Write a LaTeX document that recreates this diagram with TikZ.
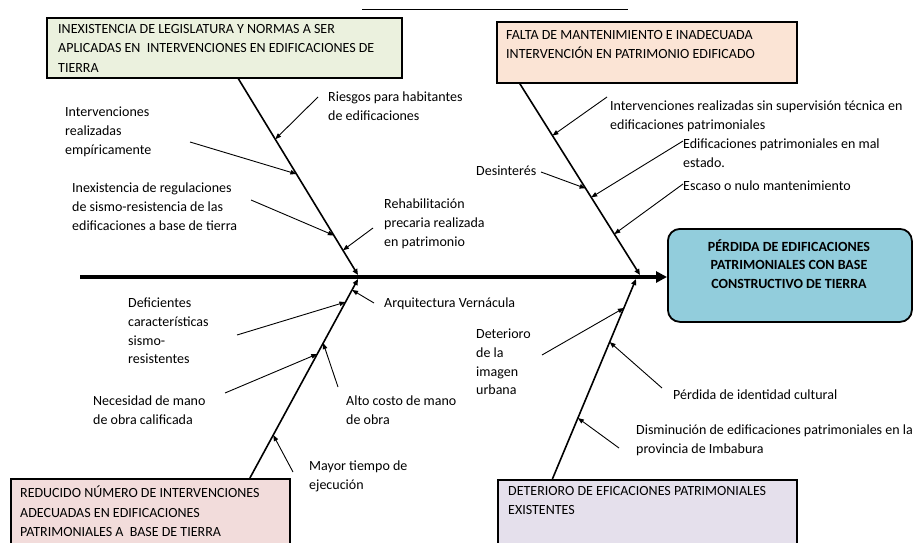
\documentclass[tikz,border=0pt]{standalone}
\usepackage{fontspec}
\setmainfont{Carlito}
\definecolor{BoxGreen}{RGB}{235, 241, 222}
\definecolor{BoxPeach}{RGB}{251, 228, 213}
\definecolor{BoxPink}{RGB}{242, 220, 219}
\definecolor{BoxLilac}{RGB}{229, 224, 236}
\definecolor{HeadBlue}{RGB}{146, 205, 220}
\usetikzlibrary{arrows.meta, calc}

\tikzset{
  catbox/.style={draw, line width=1.8pt, inner sep=0pt, anchor=north west},
  cattext/.style={anchor=north west, inner sep=0pt, align=left, font=\fontsize{14}{19.5}\selectfont},
  cause/.style={anchor=north west, inner sep=0pt, align=left, font=\fontsize{14}{18.6}\selectfont},
  bone/.style={line width=1.6pt, -{Triangle[length=6pt, width=5pt]}},
  twig/.style={line width=0.9pt, -{Triangle[length=6pt, width=4.5pt]}},
}

\begin{document}
\begin{tikzpicture}[x=1pt, y=-1pt]
        \clip (0,0) rectangle (913,543);

        % Stray rule at the top
        \draw[line width=1pt] (362,10) -- (628,10);

        % Category boxes
        \node[catbox, fill=BoxGreen, minimum width=355pt, minimum height=60pt] (tl) at (46,17) {};
        \node[cattext] (tlt) at (58,24) {INEXISTENCIA DE LEGISLATURA Y NORMAS A SER\\APLICADAS EN~ INTERVENCIONES EN EDIFICACIONES DE\\TIERRA};

        \node[catbox, fill=BoxPeach, minimum width=300pt, minimum height=61pt] (tr) at (496,21) {};
        \node[cattext] (trt) at (506,30) {FALTA DE MANTENIMIENTO E INADECUADA\\INTERVENCIÓN EN PATRIMONIO EDIFICADO};

        \node[catbox, fill=BoxPink, minimum width=279pt, minimum height=100pt] (bl) at (10,478) {};
        \node[cattext] (blt) at (20,486) {REDUCIDO NÚMERO DE INTERVENCIONES\\ADECUADAS EN EDIFICACIONES\\PATRIMONIALES A~ BASE DE TIERRA};

        \node[catbox, fill=BoxLilac, minimum width=299pt, minimum height=100pt] (br) at (497,479) {};
        \node[cattext] (brt) at (508,486) {DETERIORO DE EFICACIONES PATRIMONIALES\\EXISTENTES};

        % Effect
        \node[catbox, rounded corners=12pt, fill=HeadBlue, minimum width=244pt, minimum height=93pt] (head) at (667,228) {};
        \node[align=center, inner sep=0pt, font=\bfseries\fontsize{14}{18.6}\selectfont] (headt) at (789,264) {PÉRDIDA DE EDIFICACIONES\\PATRIMONIALES CON BASE\\CONSTRUCTIVO DE TIERRA};

        % Spine and main bones
        \coordinate (tail) at (80,277);
        \coordinate (tlb) at ([xshift=14pt]tl.south);
        \coordinate (tlj) at (358,275);
        \coordinate (trb) at ([xshift=-127pt]tr.south);
        \coordinate (trj) at (640,275);
        \coordinate (blb) at ([xshift=99.5pt]bl.north);
        \coordinate (blj) at (358,279);
        \coordinate (brb) at ([xshift=-95pt]br.north);
        \coordinate (brj) at (636,279);

        \draw[line width=3.5pt, -{Triangle[length=11pt, width=11pt]}] (tail) -- (tail -| head.west);
        \draw[bone] (tlb) -- (tlj);
        \draw[bone] (trb) -- (trj);
        \draw[bone] (blb) -- (blj);
        \draw[bone] (brb) -- (brj);

        % Causes, upper left
        \node[cause] (rie) at (328,92) {Riesgos para habitantes\\de edificaciones};
        \node[cause] (emp) at (65,107) {Intervenciones\\realizadas\\empíricamente};
        \node[cause] (reg) at (72,183) {Inexistencia de regulaciones\\de sismo-resistencia de las\\edificaciones a base de tierra};
        \node[cause] (reh) at (384,199) {Rehabilitación\\precaria realizada\\en patrimonio};
        \draw[twig] ([shift={(-10,5)}]rie.north west) -- ($(tlb)!0.308!(tlj)$);
        \draw[twig] ([shift={(125,35)}]emp.north west) -- ($(tlb)!0.485!(tlj)$);
        \draw[twig] ([shift={(179,17)}]reg.north west) -- ($(tlb)!0.798!(tlj)$);
        \draw[twig] ([shift={(-11,29)}]reh.north west) -- ($(tlb)!0.874!(tlj)$);

        % Causes, lower left
        \node[cause] (ver) at (384,298) {Arquitectura Vernácula};
        \node[cause] (def) at (128,298) {Deficientes\\características\\sismo-\\resistentes};
        \node[cause] (nec) at (93,396) {Necesidad de mano\\de obra calificada};
        \node[cause] (alt) at (346,396) {Alto costo de mano\\de obra};
        \node[cause] (may) at (309,461) {Mayor tiempo de\\ejecución};
        \draw[twig] ([shift={(-10,5)}]ver.north west) -- ($(blb)!0.945!(blj)$);
        \draw[twig] ([shift={(109,37)}]def.north west) -- ($(blb)!0.884!(blj)$);
        \draw[twig] ([shift={(132,-3)}]nec.north west) -- ($(blb)!0.623!(blj)$);
        \draw[twig] ([shift={(-8,-9)}]alt.north west) -- ($(blb)!0.678!(blj)$);
        \draw[twig] ([shift={(-16,11)}]may.north west) -- ($(blb)!0.216!(blj)$);

        % Causes, upper right
        \node[cause] (sin) at (610,101) {Intervenciones realizadas sin supervisión técnica en\\edificaciones patrimoniales};
        \node[cause] (mal) at (683,139) {Edificaciones patrimoniales en mal\\estado.};
        \node[cause] (des) at (476,166) {Desinterés};
        \node[cause] (esc) at (683,181) {Escaso o nulo mantenimiento};
        \draw[twig] ([shift={(-3,-4)}]sin.north west) -- ($(trb)!0.271!(trj)$);
        \draw[twig] ([shift={(65,6)}]des.north west) -- ($(trb)!0.547!(trj)$);
        \draw[twig] ([shift={(0,2)}]mal.north west) -- ($(trb)!0.594!(trj)$);
        \draw[twig] ([shift={(0,3)}]esc.north west) -- ($(trb)!0.786!(trj)$);

        % Causes, lower right
        \node[cause] (det) at (476,329) {Deterioro\\de la\\imagen\\urbana};
        \node[cause] (per) at (673,390) {Pérdida de identidad cultural};
        \node[cause] (dis) at (636,425) {Disminución de edificaciones patrimoniales en la\\provincia de Imbabura};
        \draw[twig] ([shift={(66,26)}]det.north west) -- ($(brb)!0.855!(brj)$);
        \draw[twig] ([shift={(-11,-2)}]per.north west) -- ($(brb)!0.685!(brj)$);
        \draw[twig] ([shift={(-17,23)}]dis.north west) -- ($(brb)!0.305!(brj)$);
    \end{tikzpicture}
\end{document}
